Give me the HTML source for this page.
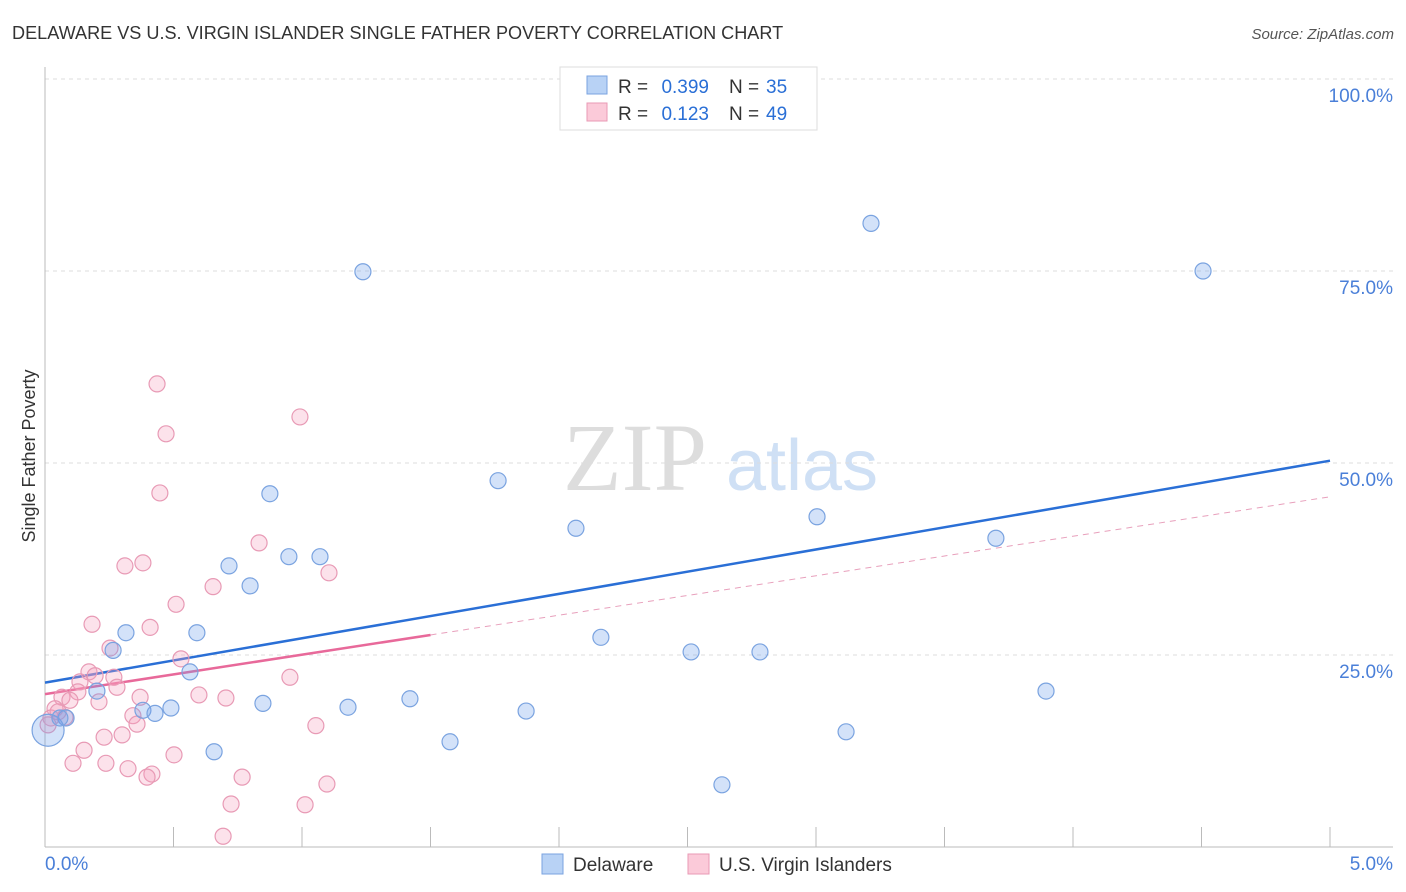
<!DOCTYPE html>
<html><head><meta charset="utf-8"><style>
body{margin:0;background:#fff;font-family:"Liberation Sans",sans-serif;}
#wrap{position:relative;width:1406px;height:892px;overflow:hidden;}
</style></head><body>
<div id="wrap">
<svg id="chart" width="1406" height="892">
<text x="12" y="39" font-size="18.1" fill="#333">DELAWARE VS U.S. VIRGIN ISLANDER SINGLE FATHER POVERTY CORRELATION CHART</text>
<text x="1394" y="39" font-size="15" fill="#555" font-style="italic" text-anchor="end">Source: ZipAtlas.com</text>
<g>
<text x="635" y="490" font-size="96" font-family="Liberation Serif,serif" fill="#ddd" text-anchor="middle">ZIP</text>
<text x="802" y="490" font-size="72" fill="#cfe0f5" text-anchor="middle">atlas</text>
</g>
<g id="grid"></g>
<g id="axes"></g>
<g id="lines"></g>
<g id="pts"></g>
<text x="35" y="456" font-size="18" fill="#333" text-anchor="middle" transform="rotate(-90 35 456)">Single Father Poverty</text>
<g>
<rect x="560" y="67" width="257" height="63" fill="#fff" stroke="#ddd"/>
<rect x="587" y="76" width="20" height="18" fill="#b8d2f5" stroke="#7aa3e0"/>
<rect x="587" y="103" width="20" height="18" fill="#fbcad9" stroke="#e89ab5"/>
<text x="618" y="93" font-size="19" fill="#333">R =</text>
<text x="709" y="93" font-size="19" fill="#2a6fd6" text-anchor="end">0.399</text>
<text x="729" y="93" font-size="19" fill="#333">N =</text>
<text x="766" y="93" font-size="19" fill="#2a6fd6">35</text>
<text x="618" y="120" font-size="19" fill="#333">R =</text>
<text x="709" y="120" font-size="19" fill="#2a6fd6" text-anchor="end">0.123</text>
<text x="729" y="120" font-size="19" fill="#333">N =</text>
<text x="766" y="120" font-size="19" fill="#2a6fd6">49</text>
</g>
<g>
<rect x="542" y="854" width="21" height="20" fill="#b8d2f5" stroke="#7aa3e0"/>
<text x="573" y="871" font-size="19" fill="#333">Delaware</text>
<rect x="688" y="854" width="21" height="20" fill="#fbcad9" stroke="#e89ab5"/>
<text x="719" y="871" font-size="19" fill="#333">U.S. Virgin Islanders</text>
</g>
</svg>
</div>
<script>
const blueX=[1.237,3.214,4.506,0.875,1.763,2.066,3.004,3.700,0.716,0.798,0.949,1.070,0.315,0.591,0.265,2.163,2.514,2.782,0.564,0.202,3.895,0.848,1.179,1.420,0.381,0.490,0.428,1.872,0.082,1.576,3.117,0.658,2.634,0.012,0.058];
const blueY=[74.9,81.2,75.0,46.0,47.7,41.5,43.0,40.2,36.6,34.0,37.8,37.8,27.9,27.9,25.6,27.3,25.4,25.4,22.8,20.3,20.3,18.7,18.2,19.3,17.8,18.1,17.4,17.7,16.8,13.7,15.0,12.4,8.1,15.2,16.8];
const pinkX=[0.436,0.992,0.471,0.447,0.833,0.311,0.381,1.105,0.654,0.510,0.183,0.409,0.253,0.529,0.171,0.953,0.268,0.195,0.136,0.280,0.066,0.128,0.210,0.370,0.599,0.704,0.097,0.039,0.023,0.078,0.342,0.358,1.054,0.230,0.300,0.152,0.502,0.109,0.237,0.323,0.416,0.397,0.767,1.097,0.724,1.012,0.693,0.012,0.051];
const pinkY=[60.3,56.0,53.8,46.1,39.6,36.6,37.0,35.7,33.9,31.6,29.0,28.6,25.9,24.5,22.8,22.1,22.1,22.3,21.5,20.8,19.5,20.2,18.9,19.5,19.8,19.4,19.1,18.0,16.8,16.9,17.1,16.0,15.8,14.3,14.6,12.6,12.0,10.9,10.9,10.2,9.5,9.1,9.1,8.2,5.6,5.5,1.4,15.9,17.6];
const yTicks=[25,50,75,100];
const yTickLabels=["25.0%","50.0%","75.0%","100.0%"];
const blueTrend=[21.4,50.3];
const pinkTrend=[19.9,45.6];
const pinkSolidEnd=1.5;
const NS="http://www.w3.org/2000/svg";
const X=v=>45+v/5*1285, Y=v=>847-v/100*768;
function mk(parent,tag,attrs){const e=document.createElementNS(NS,tag);for(const k in attrs)e.setAttribute(k,attrs[k]);document.getElementById(parent).appendChild(e);return e;}
yTicks.forEach((t,i)=>{
 const g=mk('grid','line',{x1:45,x2:1393,y1:Y(t),y2:Y(t),stroke:'#ddd','stroke-dasharray':'4,4'});
 
 
 const l=mk('grid','text',{x:1393,y:Y(t)+23,'font-size':19,fill:'#4a7fd8','text-anchor':'end'});
 l.textContent=yTickLabels[i];
 
 
});
const ax=mk('axes','line',{x1:45,x2:45,y1:67,y2:847,stroke:'#bbb'});


const bx=mk('axes','line',{x1:45,x2:1393,y1:847,y2:847,stroke:'#bbb'});


for(let i=0;i<=10;i++){const t=mk('axes','line',{x1:X(i*0.5),x2:X(i*0.5),y1:827,y2:847,stroke:'#bbb'});
 
 }
const x0=mk('axes','text',{x:45,y:870,'font-size':19,fill:'#4a7fd8'});x0.textContent="0.0%";


const x1=mk('axes','text',{x:1393,y:870,'font-size':19,fill:'#4a7fd8','text-anchor':'end'});x1.textContent="5.0%";


const bl=mk('lines','line',{x1:X(0),y1:Y(blueTrend[0]),x2:X(5),y2:Y(blueTrend[1]),stroke:'#2a6fd6','stroke-width':2.5});


const pAt=x=>pinkTrend[0]+(pinkTrend[1]-pinkTrend[0])*x/5;
const ps=mk('lines','line',{x1:X(0),y1:Y(pinkTrend[0]),x2:X(pinkSolidEnd),y2:Y(pAt(pinkSolidEnd)),stroke:'#e8699a','stroke-width':2.5});


const pd=mk('lines','line',{x1:X(pinkSolidEnd),y1:Y(pAt(pinkSolidEnd)),x2:X(5),y2:Y(pinkTrend[1]),stroke:'#e8a0bc','stroke-width':1,'stroke-dasharray':'6,5'});


pinkX.forEach((v,i)=>{const c=mk('pts','circle',{cx:X(v),cy:Y(pinkY[i]),r:8,fill:'rgba(245,160,190,0.3)',stroke:'#e89ab5','stroke-width':1.2});
 
 });
blueX.forEach((v,i)=>{const c=mk('pts','circle',{cx:X(v),cy:Y(blueY[i]),r:i==33?16:8,fill:'rgba(110,160,235,0.3)',stroke:'#7aa3e0','stroke-width':1.2});
 
 });
</script>
</body></html>
